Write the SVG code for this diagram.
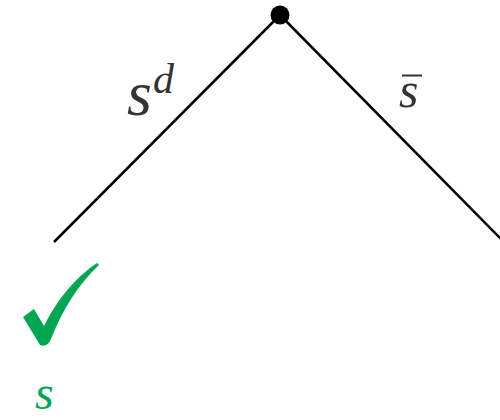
<svg xmlns="http://www.w3.org/2000/svg" width="500" height="420" viewBox="0 0 500 420">
<style>
.lbl{font-family:"Liberation Serif","DejaVu Serif",serif;font-style:italic;fill:#333}
.edge{stroke:#000;stroke-width:2.5;fill:none}
</style>
<rect width="500" height="420" fill="#fff"/>
<g id="connectors">
<line class="edge" x1="280" y1="15" x2="54" y2="242"/>
<line class="edge" x1="280" y1="15" x2="502" y2="240"/>
</g>
<g id="root">
<circle cx="280" cy="15" r="9.5" fill="#000"/>
</g>
<g id="label-sd">
<text class="lbl" x="127" y="115" font-size="64">s</text>
<text class="lbl" x="153" y="93" font-size="42">d</text>
</g>
<g id="label-sbar">
<text class="lbl" x="399" y="107" font-size="50">s</text>
<line x1="402" y1="75.5" x2="422" y2="75.5" stroke="#333" stroke-width="2"/>
</g>
<g id="leaf-left">
<path d="M23,317 L34,309 L44,326 C58,298 75,278 97,263 L99,265 C79,284 63,308 51,339 Q47,348 40,345 Z" fill="#00a651"/>
<text class="lbl" x="35" y="409" font-size="48" style="fill:#00a651">s</text>
</g>
</svg>
